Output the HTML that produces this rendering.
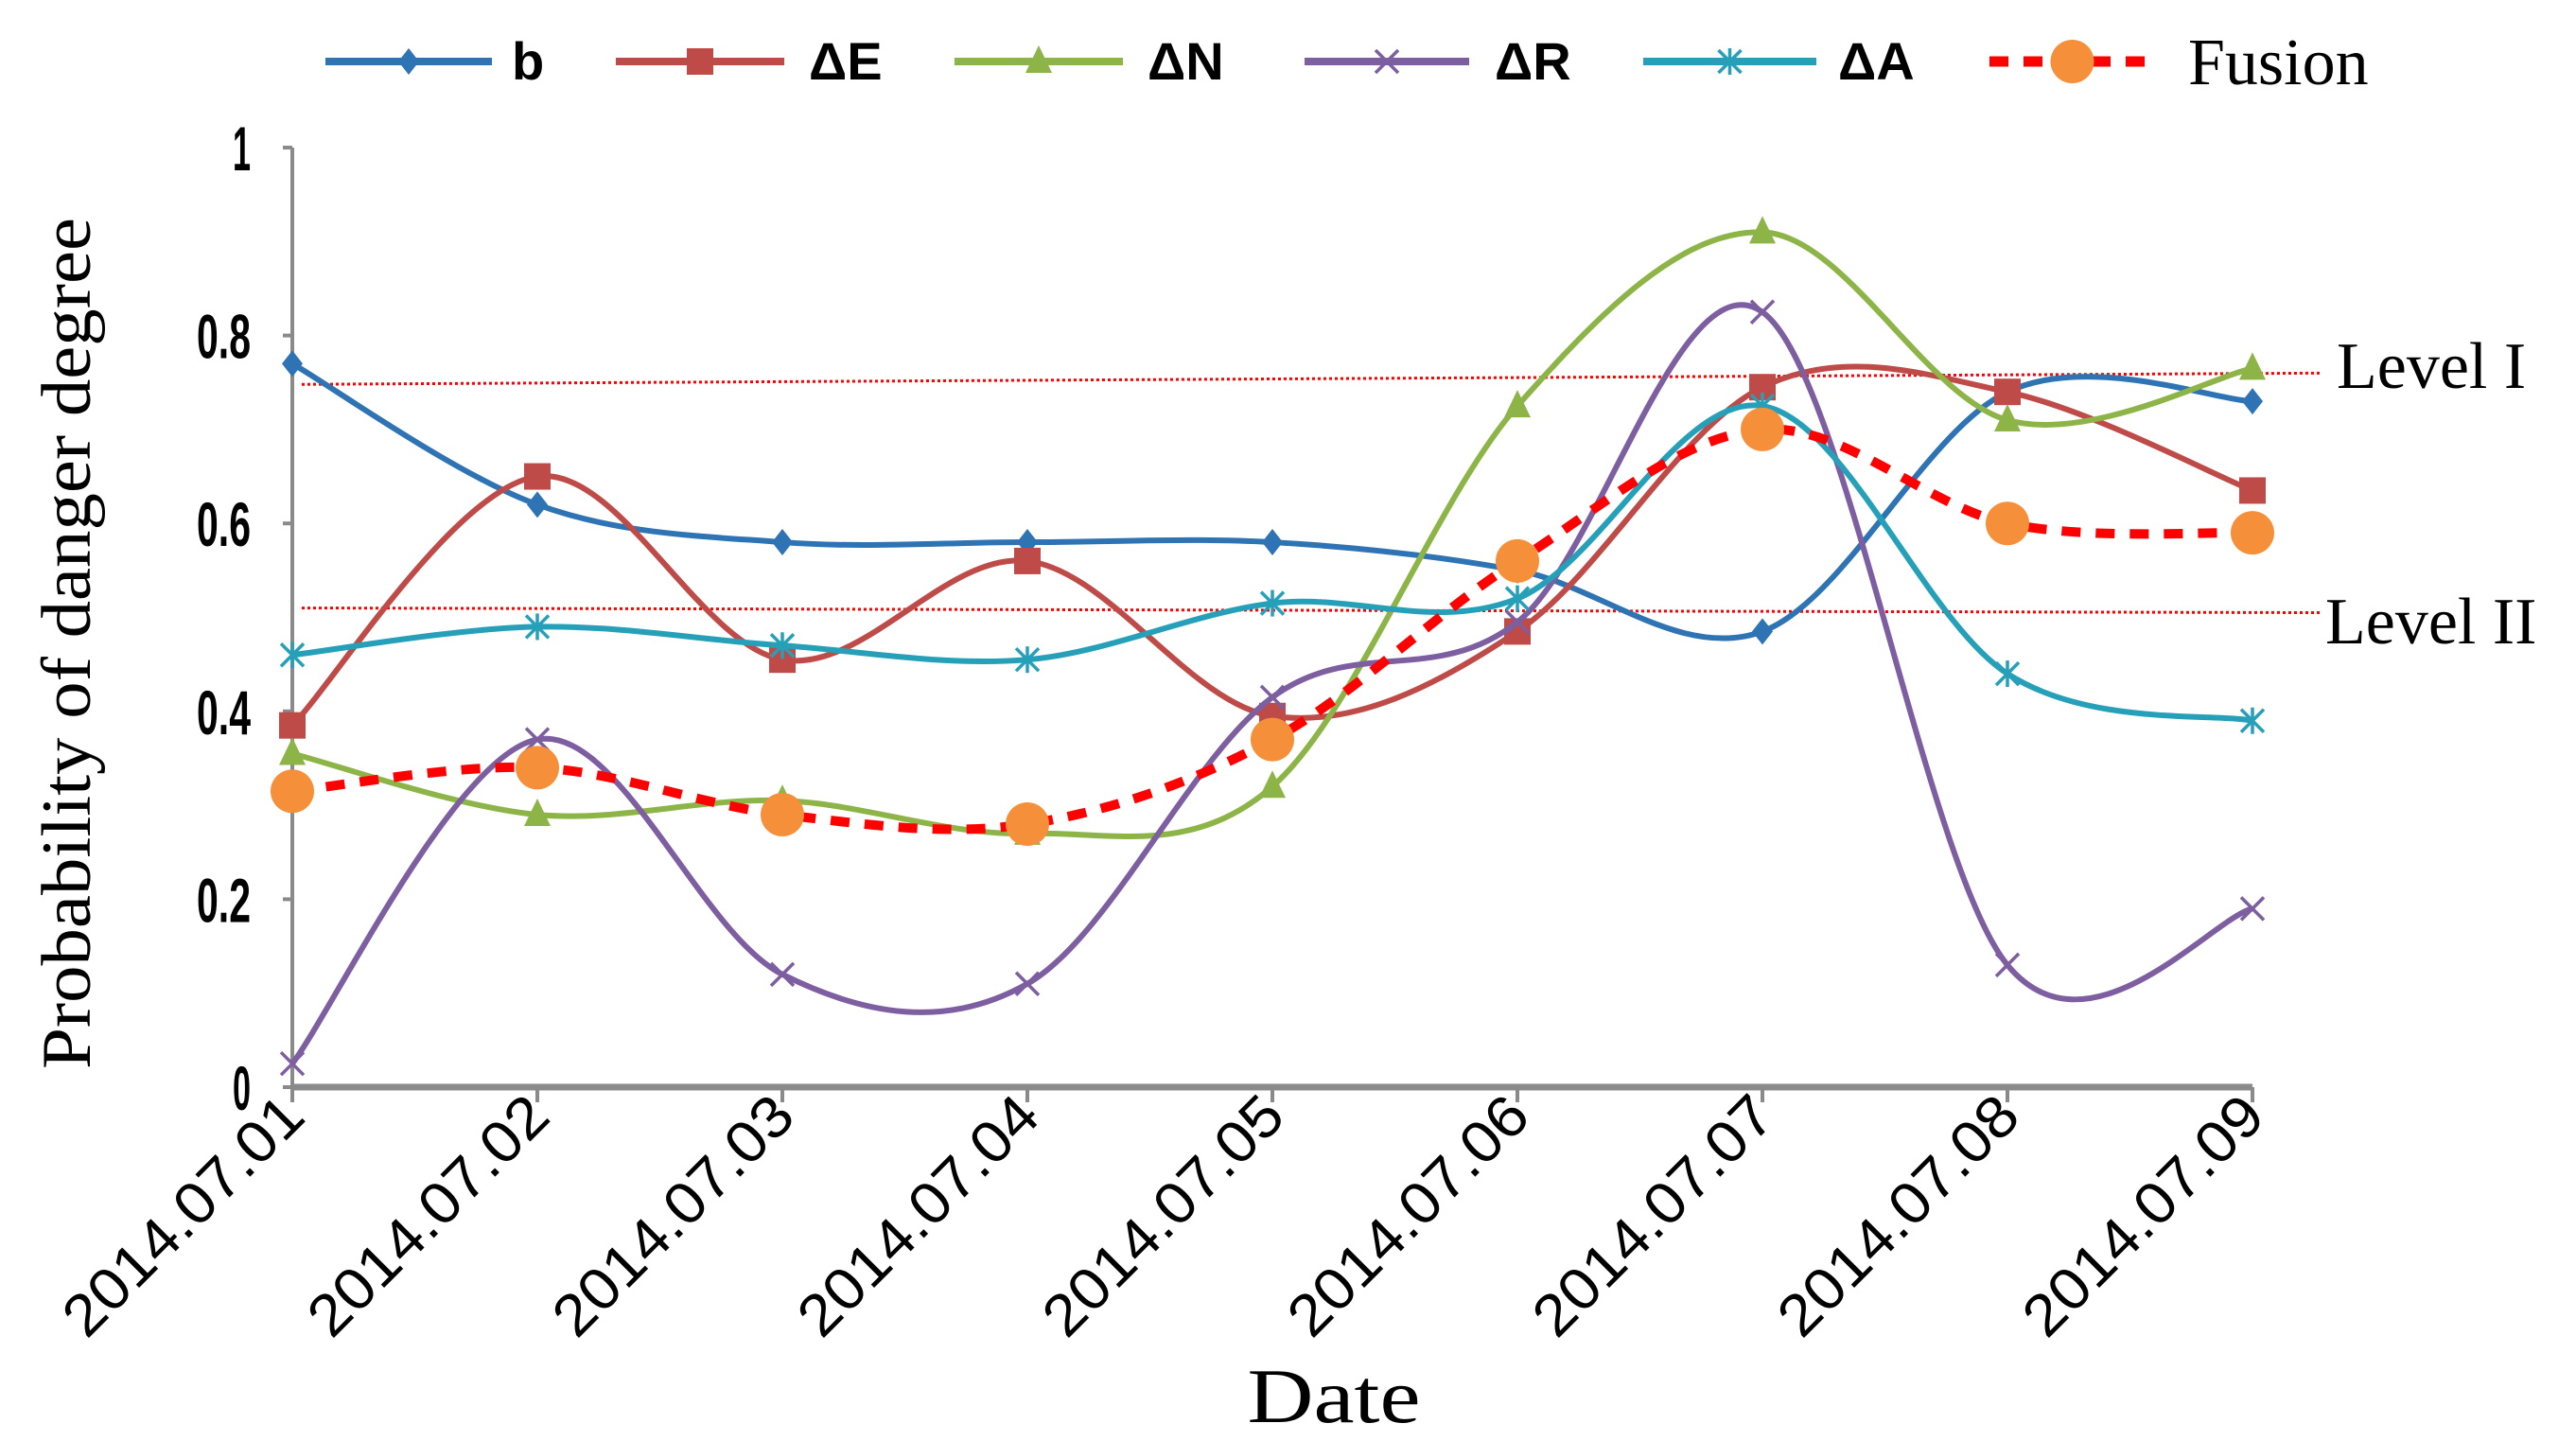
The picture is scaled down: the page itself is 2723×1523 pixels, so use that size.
<!DOCTYPE html>
<html><head><meta charset="utf-8"><style>
html,body{margin:0;padding:0;background:#fff;}
svg{display:block;}
</style></head><body>
<svg id="chart" width="2723" height="1523" viewBox="0 0 2723 1523" xmlns="http://www.w3.org/2000/svg"></svg>
<script>
const categories = ["2014.07.01","2014.07.02","2014.07.03","2014.07.04","2014.07.05","2014.07.06","2014.07.07","2014.07.08","2014.07.09"];
const seriesB = [0.77,0.62,0.58,0.58,0.58,0.55,0.485,0.74,0.73];
const seriesE = [0.385,0.65,0.455,0.56,0.395,0.485,0.745,0.74,0.635];
const seriesN = [0.355,0.29,0.305,0.27,0.32,0.725,0.91,0.71,0.765];
const seriesR = [0.025,0.37,0.12,0.11,0.415,0.495,0.825,0.13,0.19];
const seriesA = [0.46,0.49,0.47,0.455,0.515,0.52,0.725,0.44,0.39];
const seriesFusion = [0.315,0.34,0.29,0.28,0.37,0.56,0.70,0.60,0.59];
const yTicks = [0,0.2,0.4,0.6,0.8,1];
const yTickLabels = ["0","0.2","0.4","0.6","0.8","1"];
const levelI = [0.748,0.76];
const levelII = [0.51,0.505];

const NS="http://www.w3.org/2000/svg";
const svg=document.getElementById('chart');
const X0=309,X1=2381,Y0=1149,Y1=156;
function xs(i){return X0+(X1-X0)*i/(categories.length-1);}
function ys(v){return Y0-(Y0-Y1)*v;}
function mk(tag,attrs,parent){const e=document.createElementNS(NS,tag);for(const k in attrs)e.setAttribute(k,attrs[k]);(parent||svg).appendChild(e);return e;}
function smooth(vals){
  const p=vals.map((v,i)=>[xs(i),ys(v)]);
  let d=`M${p[0][0]},${p[0][1]}`;
  for(let i=0;i<p.length-1;i++){
    const p0=p[i-1]||p[i],p1=p[i],p2=p[i+1],p3=p[i+2]||p[i+1];
    const t=6;
    d+=` C${p1[0]+(p2[0]-p0[0])/t},${p1[1]+(p2[1]-p0[1])/t} ${p2[0]-(p3[0]-p1[0])/t},${p2[1]-(p3[1]-p1[1])/t} ${p2[0]},${p2[1]}`;
  }
  return d;
}
function marker(type,x,y,c,g){
  if(type==='diamond')return mk('polygon',{points:`${x},${y-14} ${x+11},${y} ${x},${y+14} ${x-11},${y}`,fill:c},g);
  if(type==='square')return mk('rect',{x:x-14,y:y-14,width:28,height:28,fill:c},g);
  if(type==='triangle')return mk('polygon',{points:`${x},${y-17} ${x+14},${y+12} ${x-14},${y+12}`,fill:c},g);
  if(type==='x'){const gg=mk('g',{stroke:c,'stroke-width':3.5},g);mk('line',{x1:x-12,y1:y-12,x2:x+12,y2:y+12},gg);mk('line',{x1:x-12,y1:y+12,x2:x+12,y2:y-12},gg);return gg;}
  if(type==='star'){const gg=mk('g',{stroke:c,'stroke-width':3.5},g);mk('line',{x1:x-12,y1:y-12,x2:x+12,y2:y+12},gg);mk('line',{x1:x-12,y1:y+12,x2:x+12,y2:y-12},gg);mk('line',{x1:x,y1:y-14,x2:x,y2:y+14},gg);return gg;}
  if(type==='circle')return mk('ellipse',{cx:x,cy:y,rx:23,ry:23,fill:'#f58f3a'},g);
}
const axes=mk('g',{});

mk('line',{x1:X0,y1:Y1,x2:X0,y2:Y0,stroke:'#8a8a8a','stroke-width':4},axes);
mk('line',{x1:X0,y1:Y0,x2:X1,y2:Y0,stroke:'#8a8a8a','stroke-width':7},axes);
yTicks.forEach((v,i)=>{
  mk('line',{x1:X0-10,y1:ys(v),x2:X0,y2:ys(v),stroke:'#8a8a8a','stroke-width':4},axes);
  const t=mk('text',{x:X0-44,y:ys(v)+24,'text-anchor':'end','font-family':'Liberation Sans, sans-serif','font-size':66,'font-weight':'bold',fill:'#000','textLength':yTickLabels[i].length*19,'lengthAdjust':'spacingAndGlyphs'},axes);
  
  t.textContent=yTickLabels[i];
});
categories.forEach((c,i)=>{
  const x=xs(i);
  mk('line',{x1:x,y1:Y0,x2:x,y2:Y0+16,stroke:'#8a8a8a','stroke-width':4},axes);
  const t=mk('text',{x:x+16,y:Y0+34,'text-anchor':'end','font-family':'Liberation Sans, sans-serif','font-size':62,fill:'#000',transform:`rotate(-45 ${x+16} ${Y0+34})`,textLength:330,lengthAdjust:'spacingAndGlyphs'},axes);
  
  t.textContent=c;
});
const yt=mk('text',{x:0,y:0,'text-anchor':'middle','font-family':'Liberation Serif, serif','font-size':74,fill:'#000',transform:'translate(95 680) rotate(-90)',textLength:900,lengthAdjust:'spacingAndGlyphs'});

yt.textContent='Probability of danger degree';
const xt=mk('text',{x:1410,y:1503,'text-anchor':'middle','font-family':'Liberation Serif, serif','font-size':82,fill:'#000',textLength:183,lengthAdjust:'spacingAndGlyphs'});

xt.textContent='Date';
[[levelI,'Level I','level-i',2470,410],[levelII,'Level II','level-ii',2458,680]].forEach(([lv,lab,nm,tx,ty])=>{
  const l=mk('line',{x1:319,y1:ys(lv[0]),x2:2452,y2:ys(lv[1]),stroke:'#ff0000','stroke-width':3,'stroke-dasharray':'3 3'});
  
  const t=mk('text',{x:tx,y:ty,'font-family':'Liberation Serif, serif','font-size':70,fill:'#000'});
  
  t.textContent=lab;
});
const series=[
 {vals:seriesB,color:'#2e73b3',m:'diamond',name:'b'},
 {vals:seriesE,color:'#be4b48',m:'square',name:'\u0394E'},
 {vals:seriesN,color:'#8db447',m:'triangle',name:'\u0394N'},
 {vals:seriesR,color:'#7d5ea0',m:'x',name:'\u0394R'},
 {vals:seriesA,color:'#26a0b8',m:'star',name:'\u0394A'},
];
series.forEach(s=>{
  const g=mk('g',{});
  
  mk('path',{d:smooth(s.vals),fill:'none',stroke:s.color,'stroke-width':6},g);
  s.vals.forEach((v,i)=>{const m=marker(s.m,xs(i),ys(v),s.color,g);});
});
const fg=mk('g',{});

mk('path',{d:smooth(seriesFusion),fill:'none',stroke:'#ff0000','stroke-width':10,'stroke-dasharray':'20 16'},fg);
seriesFusion.forEach((v,i)=>{const m=marker('circle',xs(i),ys(v),null,fg);});
const legend=[
 {x1:344,x2:520,tx:541,color:'#2e73b3',m:'diamond',name:'b',font:'Liberation Sans, sans-serif'},
 {x1:651,x2:829,tx:855,color:'#be4b48',m:'square',name:'\u0394E',font:'Liberation Sans, sans-serif'},
 {x1:1009,x2:1187,tx:1213,color:'#8db447',m:'triangle',name:'\u0394N',font:'Liberation Sans, sans-serif'},
 {x1:1379,x2:1553,tx:1580,color:'#7d5ea0',m:'x',name:'\u0394R',font:'Liberation Sans, sans-serif'},
 {x1:1737,x2:1920,tx:1943,color:'#26a0b8',m:'star',name:'\u0394A',font:'Liberation Sans, sans-serif'},
 {x1:2103,x2:2278,tx:2313,color:'#ff0000',m:'circle',name:'Fusion',font:'Liberation Serif, serif'},
];
legend.forEach(L=>{
  const g=mk('g',{});
  
  const y=65;
  if(L.m==='circle') mk('line',{x1:L.x1,y1:y,x2:L.x2,y2:y,stroke:'#ff0000','stroke-width':11,'stroke-dasharray':'20 16'},g);
  else mk('line',{x1:L.x1,y1:y,x2:L.x2,y2:y,stroke:L.color,'stroke-width':8},g);
  marker(L.m,(L.x1+L.x2)/2,y,L.color,g);
  const t=mk('text',{x:L.tx,y:y+(L.m==='circle'?24:19),'font-family':L.font,'font-size':L.m==='circle'?70:56,'font-weight':L.m==='circle'?'normal':'bold',fill:'#000'},g);
  t.textContent=L.name;
});
</script>
</body></html>
